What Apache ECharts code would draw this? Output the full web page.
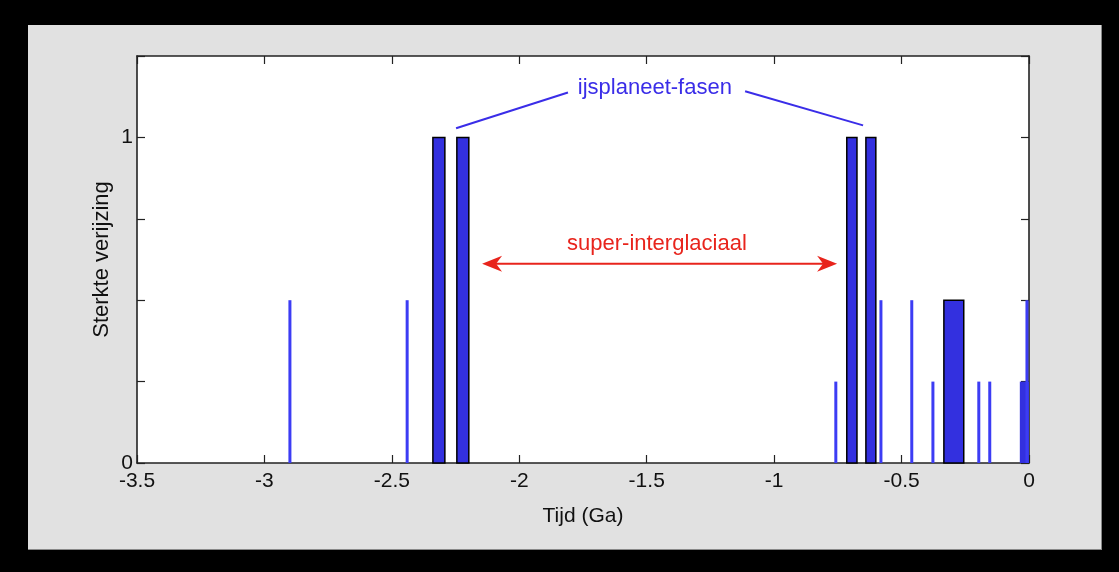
<!DOCTYPE html>
<html>
<head>
<meta charset="utf-8">
<script src="https://cdn.jsdelivr.net/npm/echarts@6/dist/echarts.min.js"></script>
<style>
  html, body { margin: 0; padding: 0; background: #000; }
  #panel {
    position: absolute; left: 28px; top: 25px; width: 1073px; height: 524px;
    background: #e1e1e1; border-right: 1px solid #888; border-bottom: 1px solid #888;
  }
  #main { position: absolute; left: 0; top: 0; width: 1119px; height: 572px; }
</style>
</head>
<body>
<div id="panel"></div>
<div id="main"></div>
<script>
// smalle pieken: positie (Ga) en sterkte
const lineTime   = [-2.9, -2.44, -0.758, -0.581, -0.46, -0.377, -0.197, -0.154, -0.008];
const lineHeight = [0.5,  0.5,   0.25,   0.5,    0.5,   0.25,   0.25,   0.25,   0.5];
// brede balken: begin, eind, sterkte
const barStart  = [-2.339, -2.245, -0.715, -0.64,  -0.334];
const barEnd    = [-2.292, -2.198, -0.675, -0.601, -0.256];
const barHeight = [1, 1, 1, 1, 0.5];
// balk zonder rand aan de rechterkant
const openStart  = [-0.036];
const openEnd    = [0];
const openHeight = [0.25];
const yLabels = { 0: '0', 1: '1' };

const FONT = '"Liberation Sans", Arial, Helvetica, sans-serif';

const chart = echarts.init(document.getElementById('main'));

function rectItem(stroke) {
  return function (params, api) {
    const p0 = api.coord([api.value(0), 0]);
    const p1 = api.coord([api.value(1), api.value(2)]);
    return {
      type: 'rect',
      shape: { x: p0[0], y: p1[1], width: p1[0] - p0[0], height: p0[1] - p1[1] },
      style: { fill: '#3330df', stroke: stroke ? '#000' : null, lineWidth: stroke ? 1.5 : 0 }
    };
  };
}

const tickStyle = { inside: true, length: 8, lineStyle: { color: '#222', width: 1.2 } };
const axisLine = { show: true, onZero: false, lineStyle: { color: '#222', width: 1.6 } };

const option = {
  animation: false,
  grid: { left: 137, right: 90, top: 56, bottom: 109, show: true, backgroundColor: '#fff', borderWidth: 0 },
  xAxis: [
    {
      type: 'value', min: -3.5, max: 0, interval: 0.5, position: 'bottom',
      name: 'Tijd (Ga)', nameLocation: 'middle', nameGap: 43, nameMoveOverlap: false,
      nameTextStyle: { fontFamily: FONT, fontSize: 21, color: '#111' },
      axisLine: axisLine,
      axisTick: tickStyle,
      splitLine: { show: false },
      axisLabel: { fontFamily: FONT, fontSize: 21, color: '#111', margin: 8,
        formatter: v => String(v) }
    },
    {
      type: 'value', min: -3.5, max: 0, interval: 0.5, position: 'top',
      axisLine: axisLine,
      axisTick: tickStyle, axisLabel: { show: false }, splitLine: { show: false }
    }
  ],
  yAxis: [
    {
      type: 'value', min: 0, max: 1.25, interval: 0.25, position: 'left',
      name: 'Sterkte verijzing', nameLocation: 'middle', nameGap: 24, nameRotate: 90,
      nameMoveOverlap: false,
      nameTextStyle: { fontFamily: FONT, fontSize: 22, color: '#111' },
      axisLine: axisLine,
      axisTick: tickStyle,
      splitLine: { show: false },
      axisLabel: { fontFamily: FONT, fontSize: 21, color: '#111', margin: 4,
        formatter: v => (yLabels[v] !== undefined ? yLabels[v] : '') }
    },
    {
      type: 'value', min: 0, max: 1.25, interval: 0.25, position: 'right',
      axisLine: axisLine,
      axisTick: tickStyle, axisLabel: { show: false }, splitLine: { show: false }
    }
  ],
  series: [
    {
      type: 'custom',
      renderItem: function (params, api) {
        const a = api.coord([api.value(0), 0]);
        const b = api.coord([api.value(0), api.value(1)]);
        return {
          type: 'line',
          shape: { x1: a[0], y1: a[1], x2: b[0], y2: b[1] },
          style: { stroke: '#3c3cf4', lineWidth: 3 }
        };
      },
      data: lineTime.map((t, i) => [t, lineHeight[i]]),
      z: 3
    },
    {
      type: 'custom',
      renderItem: rectItem(true),
      data: barStart.map((s, i) => [s, barEnd[i], barHeight[i]]),
      z: 4
    },
    {
      type: 'custom',
      renderItem: rectItem(false),
      data: openStart.map((s, i) => [s, openEnd[i], openHeight[i]]),
      z: 2
    }
  ]
};

chart.setOption(option);

// annotaties in data-coördinaten
const px = p => chart.convertToPixel({ xAxisIndex: 0, yAxisIndex: 0 }, p);
const l1a = px([-2.248, 1.028]), l1b = px([-1.809, 1.138]);
const l2a = px([-1.114, 1.142]), l2b = px([-0.651, 1.037]);
const ijs = px([-1.468, 1.151]);
const arL = px([-2.146, 0.612]), arR = px([-0.753, 0.612]);
const sup = px([-1.46, 0.674]);
const blue = '#3a2de8', red = '#e8241c';

chart.setOption({
  graphic: [
    { type: 'line', shape: { x1: l1a[0], y1: l1a[1], x2: l1b[0], y2: l1b[1] }, style: { stroke: blue, lineWidth: 2 }, z: 10 },
    { type: 'line', shape: { x1: l2a[0], y1: l2a[1], x2: l2b[0], y2: l2b[1] }, style: { stroke: blue, lineWidth: 2 }, z: 10 },
    { type: 'text', x: ijs[0], y: ijs[1], style: { text: 'ijsplaneet-fasen', fill: blue, font: '22px ' + FONT, align: 'center', verticalAlign: 'middle' }, z: 10 },
    { type: 'line', shape: { x1: arL[0] + 6, y1: arL[1], x2: arR[0] - 6, y2: arR[1] }, style: { stroke: red, lineWidth: 2 }, z: 10 },
    { type: 'polygon', shape: { points: [[arL[0], arL[1]], [arL[0] + 20, arL[1] - 8], [arL[0] + 14, arL[1]], [arL[0] + 20, arL[1] + 8]] }, style: { fill: red }, z: 10 },
    { type: 'polygon', shape: { points: [[arR[0], arR[1]], [arR[0] - 20, arR[1] - 8], [arR[0] - 14, arR[1]], [arR[0] - 20, arR[1] + 8]] }, style: { fill: red }, z: 10 },
    { type: 'text', x: sup[0], y: sup[1], style: { text: 'super-interglaciaal', fill: red, font: '22px ' + FONT, align: 'center', verticalAlign: 'middle' }, z: 10 }
  ]
});

window.addEventListener('resize', () => chart.resize());
</script>
</body>
</html>
